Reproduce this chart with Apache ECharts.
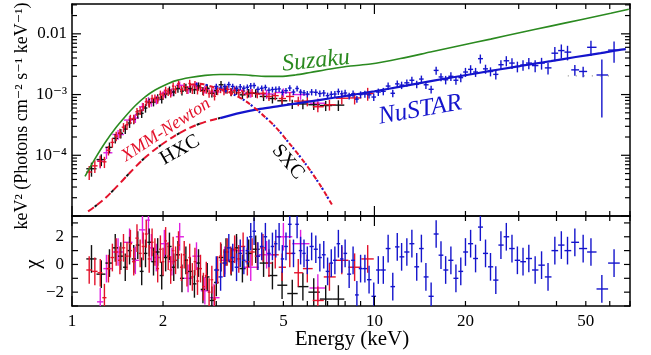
<!DOCTYPE html>
<html lang="en">
<head>
<meta charset="UTF-8">
<title>Broadband X-ray spectrum with residuals</title>
<script src="https://cdn.jsdelivr.net/npm/echarts@6/dist/echarts.min.js"></script>
<style>
    html, body, #chart {
        width: 651px;
        height: 355px;
        padding: 0;
        margin: 0;
        background: #fff;
    }
</style>
</head>
<body>
<div id="chart"></div>
<script>
    // ---- values: [energy keV, keV^2 flux, fractional error, chi] ----
    var xmmRed = [
        [1.14, 5.3e-5, 0.26, -0.4], [1.19, 6.7e-5, 0.24, -0.5], [1.24, 8.0e-5, 0.22, -0.6], [1.28, 7.8e-5, 0.21, -2.4],
        [1.32, 1.21e-4, 0.18, -0.3], [1.36, 1.63e-4, 0.18, 0.5], [1.40, 2.07e-4, 0.18, 0.9], [1.44, 2.32e-4, 0.18, 0.3],
        [1.48, 2.9e-4, 0.17, 1.2], [1.52, 3.18e-4, 0.17, 0.6], [1.56, 3.97e-4, 0.17, 1.5], [1.60, 3.98e-4, 0.17, 0.2],
        [1.64, 5.2e-4, 0.15, 1.9], [1.68, 5.4e-4, 0.15, 0.8], [1.72, 6.3e-4, 0.15, 1.3], [1.76, 7.6e-4, 0.15, 2.2],
        [1.80, 7.1e-4, 0.15, 0.4], [1.84, 8.6e-4, 0.15, 1.6], [1.88, 8.7e-4, 0.15, 0.9], [1.92, 8.3e-4, 0.15, -0.3],
        [1.96, 1.01e-3, 0.15, 1.1], [2.00, 9.8e-4, 0.15, 0.2], [2.04, 1.17e-3, 0.15, 1.7], [2.08, 1.11e-3, 0.15, 0.6],
        [2.12, 1.05e-3, 0.15, -0.4], [2.16, 1.38e-3, 0.15, 1.0], [2.20, 1.21e-3, 0.15, 0.3], [2.25, 1.5e-3, 0.15, 1.4],
        [2.30, 1.21e-3, 0.15, -0.2], [2.35, 1.35e-3, 0.15, 0.7], [2.40, 1.2e-3, 0.15, -0.6], [2.45, 1.52e-3, 0.15, 0.5],
        [2.50, 1.2e-3, 0.15, -0.9], [2.55, 1.45e-3, 0.15, 0.2], [2.60, 1.18e-3, 0.15, -1.2], [2.66, 1.3e-3, 0.15, -0.3],
        [2.72, 1.12e-3, 0.15, -1.6], [2.78, 1.21e-3, 0.15, -0.8], [2.84, 1.04e-3, 0.15, -2.0], [2.90, 1.14e-3, 0.15, -1.1],
        [2.96, 9.4e-4, 0.15, -2.5], [3.03, 1.15e-3, 0.15, -0.4], [3.10, 1.24e-3, 0.15, 0.6], [3.18, 1.15e-3, 0.15, 0.1],
        [3.26, 1.21e-3, 0.15, 0.9], [3.35, 1.11e-3, 0.15, 0.3], [3.45, 1.17e-3, 0.15, 1.1], [3.56, 1.07e-3, 0.15, 0.4],
        [3.68, 1.14e-3, 0.15, 1.3], [3.80, 1.02e-3, 0.15, 0.2], [3.94, 1.07e-3, 0.15, 0.9], [4.10, 1.02e-3, 0.15, 0.6],
        [4.28, 1.05e-3, 0.15, 1.2], [4.48, 9.3e-4, 0.16, 0.1], [4.70, 9.6e-4, 0.16, 0.7], [4.95, 8.6e-4, 0.17, -0.2],
        [5.25, 9.3e-4, 0.17, 0.8], [5.6, 7.8e-4, 0.18, -0.6], [6.0, 7.8e-4, 0.18, -0.3], [6.5, 6.3e-4, 0.19, -2.6],
        [7.1, 6.8e-4, 0.2, -0.9], [7.8, 8.7e-4, 0.21, 0.3], [8.6, 8.8e-4, 0.22, -0.2], [9.5, 1.04e-3, 0.24, 0.4]
    ];
    var xmmBlack = [
        [1.16, 6.0e-5, 0.26, 0.4], [1.25, 8.5e-5, 0.22, -0.7], [1.33, 1.35e-4, 0.2, 0.1], [1.39, 1.9e-4, 0.18, 1.2],
        [1.45, 2.3e-4, 0.18, 0.6], [1.50, 2.7e-4, 0.17, -0.2], [1.55, 3.4e-4, 0.17, 1.0], [1.60, 3.9e-4, 0.17, 0.4],
        [1.65, 4.8e-4, 0.16, 1.4], [1.70, 4.9e-4, 0.16, -0.5], [1.75, 6.0e-4, 0.16, 0.8], [1.80, 7.4e-4, 0.16, 1.6],
        [1.86, 7.5e-4, 0.15, 0.2], [1.92, 8.8e-4, 0.15, 0.9], [1.98, 8.4e-4, 0.15, -0.8], [2.04, 1.02e-3, 0.15, 0.5],
        [2.10, 1.18e-3, 0.15, 1.3], [2.17, 1.1e-3, 0.15, -0.2], [2.24, 1.26e-3, 0.15, 0.7], [2.31, 1.14e-3, 0.15, -1.0],
        [2.38, 1.31e-3, 0.15, 0.3], [2.46, 1.26e-3, 0.15, -0.5], [2.54, 1.2e-3, 0.15, -1.4], [2.62, 1.38e-3, 0.15, 0.1],
        [2.71, 1.16e-3, 0.15, -1.8], [2.80, 1.27e-3, 0.15, -0.9], [2.90, 1.05e-3, 0.15, -2.6], [3.00, 1.16e-3, 0.15, -1.3],
        [3.11, 1.45e-3, 0.15, 0.5], [3.23, 1.22e-3, 0.15, 0.9], [3.36, 1.1e-3, 0.15, 0.2], [3.50, 1.17e-3, 0.15, 1.2],
        [3.66, 9.9e-4, 0.15, -0.3], [3.84, 1.06e-3, 0.16, 0.8], [4.05, 1.05e-3, 0.16, 1.1], [4.30, 9.3e-4, 0.16, 0.1],
        [4.60, 8.6e-4, 0.17, -0.8], [4.95, 7.9e-4, 0.17, -1.5], [5.35, 7.0e-4, 0.17, -2.1], [5.8, 7.0e-4, 0.18, -1.6],
        [6.3, 6.8e-4, 0.18, -2.0], [6.9, 6.6e-4, 0.19, -2.5], [7.6, 6.7e-4, 0.2, -2.5]
    ];
    var xmmMagenta = [
        [1.24, 8.0e-5, 0.24, -2.7], [1.30, 1.1e-4, 0.21, -0.3], [1.42, 2.2e-4, 0.18, 0.9], [1.55, 3.8e-4, 0.17, 1.6],
        [1.62, 4.1e-4, 0.17, 0.3], [1.71, 6.3e-4, 0.16, 2.5], [1.79, 7.8e-4, 0.16, 3.2], [1.83, 7.5e-4, 0.16, 1.2],
        [1.90, 8.2e-4, 0.16, 0.5], [2.02, 1.05e-3, 0.15, 1.5], [2.14, 1.1e-3, 0.15, 0.2], [2.27, 1.42e-3, 0.15, 2.0],
        [2.42, 1.2e-3, 0.15, -1.0], [2.58, 1.4e-3, 0.15, 0.6], [2.75, 1.22e-3, 0.15, -1.9], [2.95, 1.1e-3, 0.15, -2.4],
        [3.20, 1.22e-3, 0.15, 0.3], [3.50, 1.18e-3, 0.16, 1.0], [3.90, 1.05e-3, 0.16, -0.2], [4.40, 1.02e-3, 0.17, 0.7],
        [5.00, 1.08e-3, 0.17, 2.0], [5.70, 1.0e-3, 0.18, 1.5], [6.50, 7.2e-4, 0.2, -1.7]
    ];
    var nustar = [
        [3.0, 1.36e-3, 0.11, -0.4], [3.1, 1.28e-3, 0.11, -0.9], [3.2, 1.36e-3, 0.11, 0.1], [3.3, 1.46e-3, 0.11, 1.2],
        [3.4, 1.36e-3, 0.11, 0.5], [3.5, 1.26e-3, 0.11, -0.2], [3.6, 1.34e-3, 0.11, 0.8], [3.7, 1.27e-3, 0.11, 0.3],
        [3.8, 1.32e-3, 0.11, 1.0], [3.9, 1.39e-3, 0.11, 2.0], [4.0, 1.41e-3, 0.11, 2.4], [4.12, 1.22e-3, 0.11, 0.6],
        [4.24, 1.27e-3, 0.11, 1.3], [4.36, 1.31e-3, 0.11, 2.0], [4.48, 1.18e-3, 0.11, 0.8], [4.6, 1.21e-3, 0.11, 1.3],
        [4.72, 1.22e-3, 0.11, 1.5], [4.84, 1.24e-3, 0.11, 2.0], [4.96, 1.09e-3, 0.11, 0.4], [5.1, 1.16e-3, 0.11, 1.3],
        [5.25, 1.28e-3, 0.11, 2.9], [5.4, 1.10e-3, 0.11, 0.8], [5.55, 1.26e-3, 0.11, 2.9], [5.7, 1.10e-3, 0.11, 1.0],
        [5.85, 1.07e-3, 0.11, 0.8], [6.0, 1.02e-3, 0.12, 0.3], [6.2, 1.10e-3, 0.12, 1.3], [6.4, 1.09e-3, 0.12, 1.1],
        [6.6, 1.04e-3, 0.12, 0.5], [6.8, 1.06e-3, 0.12, 0.7], [7.0, 9.6e-4, 0.12, -0.5], [7.2, 1.01e-3, 0.12, 0.1],
        [7.4, 1.02e-3, 0.12, 0.3], [7.6, 1.12e-3, 0.12, 1.5], [7.8, 1.03e-3, 0.13, 0.4], [8.0, 1.06e-3, 0.13, 0.8],
        [8.25, 9.5e-4, 0.13, -0.7], [8.5, 1.03e-3, 0.13, 0.3], [8.75, 8.4e-4, 0.13, -2.2], [9.0, 1.0e-3, 0.13, -0.3],
        [9.3, 1.02e-3, 0.13, -0.3], [9.6, 9.9e-4, 0.13, -1.1], [9.95, 9.1e-4, 0.14, -2.3], [10.3, 1.1e-3, 0.14, -0.4],
        [10.7, 1.13e-3, 0.14, -0.4], [11.1, 1.38e-3, 0.14, 1.15], [11.5, 1.05e-3, 0.14, -1.6], [11.9, 1.5e-3, 0.14, 1.27],
        [12.3, 1.43e-3, 0.14, 0.55], [12.8, 1.56e-3, 0.14, 0.9], [13.3, 1.72e-3, 0.14, 1.5], [13.8, 1.48e-3, 0.14, -0.17],
        [14.3, 1.8e-3, 0.14, 1.15], [14.8, 1.45e-3, 0.15, -0.9], [15.4, 1.22e-3, 0.15, -2.3], [16.0, 2.5e-3, 0.15, 2.2],
        [16.6, 1.95e-3, 0.15, 0.67], [17.2, 1.75e-3, 0.16, -0.4], [17.9, 2.0e-3, 0.16, 0.3], [18.6, 1.72e-3, 0.16, -1.0],
        [19.3, 1.9e-3, 0.16, -0.5], [20.0, 2.35e-3, 0.17, 0.9], [20.8, 2.6e-3, 0.17, 1.5], [21.6, 2.35e-3, 0.17, 0.43],
        [22.4, 3.9e-3, 0.17, 2.7], [23.3, 2.65e-3, 0.17, 0.8], [24.2, 2.4e-3, 0.17, -0.17], [25.2, 2.15e-3, 0.18, -1.13],
        [26.2, 3.1e-3, 0.18, 1.4], [27.3, 3.6e-3, 0.19, 2.0], [28.5, 3.3e-3, 0.2, 1.15], [29.7, 2.9e-3, 0.2, 0.3],
        [31.0, 3.07e-3, 0.2, 0.2], [32.4, 3.3e-3, 0.21, 0.43], [34.0, 3.0e-3, 0.22, -0.4], [35.7, 3.3e-3, 0.22, -0.05],
        [37.5, 2.75e-3, 0.22, -0.9], [39.5, 4.8e-3, 0.26, 1.0], [41.5, 5.3e-3, 0.26, 1.4], [43.5, 5.0e-3, 0.27, 1.0],
        [46.0, 2.55e-3, 0.2, 1.6], [49.0, 2.4e-3, 0.2, 1.15], [52.0, 6.0e-3, 0.28, 0.9], [56.5, 2.1e-3, 0.8, -1.77],
        [62.0, 5.4e-3, 0.38, 0.1]
    ];

    // model curves: [energy keV, keV^2 flux]
    var suzakuModel = [
        [1.104, 4.48e-5], [1.192, 8.83e-5], [1.286, 1.61e-4], [1.388, 2.74e-4], [1.498, 4.31e-4], [1.617, 6.53e-4],
        [1.745, 9.17e-4], [1.883, 1.19e-3], [2.032, 1.44e-3], [2.193, 1.68e-3], [2.459, 1.91e-3], [2.756, 2.07e-3],
        [3.091, 2.14e-3], [3.465, 2.14e-3], [3.885, 2.07e-3], [4.356, 1.99e-3], [4.883, 1.99e-3], [5.474, 2.10e-3],
        [6.138, 2.31e-3], [7.151, 2.64e-3], [8.330, 2.95e-3], [9.700, 3.18e-3], [12.19, 3.92e-3], [15.32, 5.01e-3],
        [19.27, 6.41e-3], [24.22, 8.19e-3], [30.44, 1.05e-2], [38.25, 1.34e-2], [48.10, 1.71e-2], [60.45, 2.18e-2],
        [69.36, 2.54e-2]
    ];
    var hxcXmm = [
        [1.130, 1.19e-5], [1.192, 1.44e-5], [1.286, 1.95e-5], [1.388, 2.85e-5], [1.556, 5.2e-5], [1.745, 9.2e-5],
        [1.956, 1.44e-4], [2.193, 2.1e-4], [2.459, 2.85e-4], [2.756, 3.55e-4], [3.09, 4.1e-4]
    ];
    var hxcNustar = [
        [3.09, 4.1e-4], [3.6, 5.0e-4], [4.19, 5.8e-4], [4.88, 6.5e-4], [5.69, 7.3e-4], [6.63, 8.2e-4],
        [7.72, 9.2e-4], [8.8, 1.02e-3], [10.0, 1.13e-3], [12.2, 1.35e-3], [15.7, 1.7e-3], [19.3, 2.02e-3],
        [24.2, 2.45e-3], [28.2, 2.78e-3], [33.5, 3.2e-3], [38.3, 3.55e-3], [46.3, 4.15e-3], [56.0, 4.8e-3],
        [64.0, 5.4e-3], [67.8, 5.6e-3]
    ];
    var sxcModel = [
        [2.45, 1.45e-3], [2.652, 1.50e-3], [2.975, 1.29e-3], [3.336, 1.07e-3], [3.740, 7.88e-4], [4.194, 5.01e-4],
        [4.702, 2.95e-4], [5.271, 1.50e-4], [5.909, 7.31e-5], [6.625, 3.19e-5], [7.259, 1.50e-5]
    ];
    var nustarDotted = [[43.6, 2.03e-3], [62.8, 2.03e-3]];

    // axis ticks and labels
    var xLabels = [1, 2, 5, 10, 20, 50];
    var xMajor = [1, 10];
    var xMinor = [2, 3, 4, 5, 6, 7, 8, 9, 20, 30, 40, 50, 60, 70];
    var yLabels = [1e-4, 1e-3, 1e-2];
    var yMajor = [1e-5, 1e-4, 1e-3, 1e-2];
    var yMinor = [];
    [1e-5, 1e-4, 1e-3, 1e-2].forEach(function (d) {
        for (var k = 2; k <= 9; k++) yMinor.push(k * d);
    });
    var chiTicks = [-3, -2, -1, 0, 1, 2, 3];
    var chiLabels = [-2, 0, 2];

    var FONT = '"Liberation Serif", "DejaVu Serif", serif';
    var RED = "#e3122b", BLACK = "#111111", MAGENTA = "#e01fe0", BLUE = "#1414cc", GREEN = "#2b8a20";

    // horizontal bars span half way to the neighbouring bins
    function withBins(rows) {
        return rows.map(function (r, i) {
            var prev = i > 0 ? rows[i - 1][0] : r[0] - (rows[1][0] - r[0]);
            var next = i < rows.length - 1 ? rows[i + 1][0] : r[0] + (r[0] - rows[i - 1][0]);
            return {e: r[0], lo: (prev + r[0]) / 2, hi: (r[0] + next) / 2, f: r[1], err: r[2], chi: r[3]};
        });
    }
    function fluxItems(rows) {
        return withBins(rows).map(function (b) {
            return [b.e, b.f, b.lo, b.hi, b.f * (1 - b.err), b.f * (1 + b.err)];
        });
    }
    function chiItems(rows) {
        return withBins(rows).map(function (b) {
            return [b.e, b.chi, b.lo, b.hi, b.chi - 1, b.chi + 1];
        });
    }

    function drawCross(params, api) {
        var l = api.coord([api.value(2), api.value(1)]);
        var r = api.coord([api.value(3), api.value(1)]);
        var b = api.coord([api.value(0), api.value(4)]);
        var t = api.coord([api.value(0), api.value(5)]);
        var style = {stroke: api.visual("color"), lineWidth: 1.4};
        return {
            type: "group",
            children: [
                {type: "line", shape: {x1: l[0], y1: l[1], x2: r[0], y2: r[1]}, style: style},
                {type: "line", shape: {x1: t[0], y1: t[1], x2: b[0], y2: b[1]}, style: style}
            ]
        };
    }

    function crossSeries(rows, color, panel) {
        return {
            type: "custom",
            xAxisIndex: panel,
            yAxisIndex: panel,
            clip: true,
            silent: true,
            z: 2,
            itemStyle: {color: color},
            renderItem: drawCross,
            encode: {x: [0, 2, 3], y: [1, 4, 5]},
            data: panel === 0 ? fluxItems(rows) : chiItems(rows)
        };
    }

    function modelLine(rows, color, width, type, offset) {
        return {
            type: "line",
            xAxisIndex: 0,
            yAxisIndex: 0,
            showSymbol: false,
            silent: true,
            smooth: 0.3,
            z: 4,
            lineStyle: {color: color, width: width, type: type || "solid", dashOffset: offset || 0},
            data: rows
        };
    }

    // inward tick marks on both opposite edges of a panel, placed through the axis scale
    function tickSeries(panel, dir, values, len) {
        var probe = panel === 0 ? 1e-3 : 0;
        return {
            type: "custom",
            xAxisIndex: panel,
            yAxisIndex: panel,
            silent: true,
            clip: false,
            z: 6,
            data: values.map(function (v) { return dir === "x" ? [v, probe] : [2, v]; }),
            renderItem: function (params, api) {
                var cs = params.coordSys;
                var p = api.coord([api.value(0), api.value(1)]);
                var st = {stroke: "#000", lineWidth: 1.2};
                var a, b;
                if (dir === "x") {
                    a = {x1: p[0], y1: cs.y, x2: p[0], y2: cs.y + len};
                    b = {x1: p[0], y1: cs.y + cs.height, x2: p[0], y2: cs.y + cs.height - len};
                } else {
                    a = {x1: cs.x, y1: p[1], x2: cs.x + len, y2: p[1]};
                    b = {x1: cs.x + cs.width, y1: p[1], x2: cs.x + cs.width - len, y2: p[1]};
                }
                return {type: "group", children: [
                    {type: "line", shape: a, style: st},
                    {type: "line", shape: b, style: st}
                ]};
            }
        };
    }

    function annot(text, x, y, deg, color, size, italic) {
        return {
            type: "text", x: x, y: y, rotation: deg * Math.PI / 180, z: 10, silent: true,
            style: {
                text: text, fill: color, fontSize: size, fontFamily: FONT,
                fontStyle: italic ? "italic" : "normal",
                align: "center", verticalAlign: "middle",
                textAlign: "center", textVerticalAlign: "middle"
            }
        };
    }

    var labelStyle = {color: "#000", fontSize: 17, fontFamily: FONT};
    var frame = {show: true, onZero: false, lineStyle: {color: "#000", width: 1.5}};

    function xAxis(grid, position, labels) {
        return {
            type: "log", logBase: 10, min: 1, max: 70,
            gridIndex: grid, position: position,
            splitLine: {show: false},
            axisLine: frame,
            axisTick: {show: false},
            axisLabel: labels ? Object.assign({show: true, customValues: labels, margin: 7}, labelStyle) : {show: false}
        };
    }

    var chart = echarts.init(document.getElementById("chart"));
    chart.setOption({
        animation: false,
        backgroundColor: "#fff",
        grid: [
            {left: 72, top: 4, width: 558, height: 212, outerBoundsMode: "none"},
            {left: 72, top: 216, width: 558, height: 90, outerBoundsMode: "none"}
        ],
        xAxis: [
            xAxis(0, "bottom", null),
            xAxis(1, "bottom", xLabels),
            xAxis(0, "top", null),
            xAxis(1, "top", null)
        ],
        yAxis: [
            {
                type: "log", logBase: 10, min: 1e-5, max: 0.031,
                gridIndex: 0, position: "left",
                splitLine: {show: false}, axisLine: frame, axisTick: {show: false},
                axisLabel: Object.assign({
                    customValues: yLabels, margin: 5,
                    formatter: function (v) {
                        var p = Math.round(Math.log10(v));
                        if (p === -2) return "0.01";
                        return "10" + (p === -3 ? "\u207b\u00b3" : "\u207b\u2074");
                    }
                }, labelStyle)
            },
            {
                type: "value", min: -3, max: 3.5,
                gridIndex: 1, position: "left",
                splitLine: {show: false}, axisLine: frame, axisTick: {show: false},
                axisLabel: Object.assign({
                    customValues: chiLabels, margin: 8,
                    formatter: function (v) { return v < 0 ? "\u2212" + (-v) : String(v); }
                }, labelStyle)
            },
            {
                type: "log", logBase: 10, min: 1e-5, max: 0.031, gridIndex: 0, position: "right",
                splitLine: {show: false}, axisLine: frame, axisTick: {show: false}, axisLabel: {show: false}
            },
            {
                type: "value", min: -3, max: 3.5, gridIndex: 1, position: "right",
                splitLine: {show: false}, axisLine: frame, axisTick: {show: false}, axisLabel: {show: false}
            }
        ],
        graphic: [
            annot("keV\u00b2 (Photons cm\u207b\u00b2 s\u207b\u00b9 keV\u207b\u00b9)", 22, 116, 90, "#000", 18, false),
            annot("\u03c7", 33, 264, 90, "#000", 21, false),
            annot("Energy (keV)", 352, 339, 0, "#000", 21, false),
            annot("Suzaku", 316, 61, 6, GREEN, 24, true),
            annot("NuSTAR", 420, 110, 10, BLUE, 25, true),
            annot("XMM-Newton", 166, 130, 33, RED, 18, true),
            annot("HXC", 180, 150, 30, "#000", 20, false),
            annot("SXC", 288, 162, -50, "#000", 20, false)
        ],
        series: [
            crossSeries(xmmMagenta, MAGENTA, 0),
            crossSeries(xmmBlack, BLACK, 0),
            crossSeries(xmmRed, RED, 0),
            crossSeries(nustar, BLUE, 0),
            crossSeries(xmmMagenta, MAGENTA, 1),
            crossSeries(xmmBlack, BLACK, 1),
            crossSeries(xmmRed, RED, 1),
            crossSeries(nustar, BLUE, 1),
            modelLine(suzakuModel, GREEN, 1.6),
            modelLine(hxcXmm, RED, 2, [7, 4]),
            modelLine(hxcXmm, BLACK, 2, [3, 19], -8),
            modelLine(hxcNustar, BLUE, 2.2),
            modelLine(sxcModel, RED, 2, [5, 5]),
            modelLine(sxcModel, BLUE, 2.2, [2, 8], -6),
            modelLine(nustarDotted, "#888", 1.2, [1, 7]),
            tickSeries(0, "x", xMajor, 10),
            tickSeries(0, "x", xMinor, 5),
            tickSeries(1, "x", xMajor, 10),
            tickSeries(1, "x", xMinor, 5),
            tickSeries(0, "y", yMajor, 9),
            tickSeries(0, "y", yMinor, 5),
            tickSeries(1, "y", chiTicks, 6)
        ]
    });
</script>
</body>
</html>
